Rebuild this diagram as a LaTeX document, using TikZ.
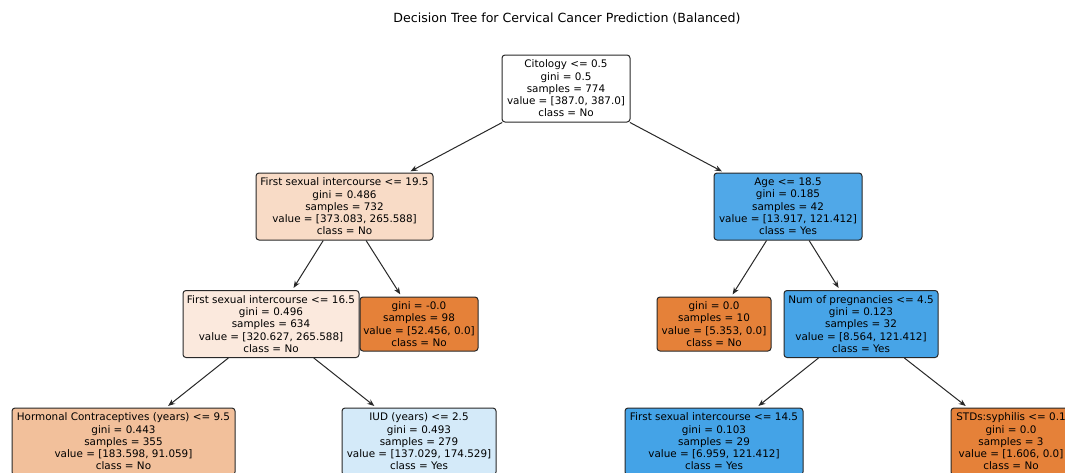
\documentclass[tikz,border=0pt]{standalone}
\usepackage{fontspec}
\setmainfont{DejaVu Sans}
\usetikzlibrary{arrows.meta}
% node fills: orange = class No, blue = class Yes, shaded by purity
\definecolor{cn2}{RGB}{248,219,198}
\definecolor{cn3}{RGB}{80,168,232}
\definecolor{cn4}{RGB}{251,233,221}
\definecolor{corange}{RGB}{229,129,57}
\definecolor{cn7}{RGB}{71,164,231}
\definecolor{cn8}{RGB}{242,192,155}
\definecolor{cn9}{RGB}{212,234,249}
\definecolor{cn10}{RGB}{68,163,231}
\definecolor{edgegray}{RGB}{40,40,40}
\tikzset{
  treenode/.style={draw=edgegray, line width=1pt, rounded corners=3pt,
    align=center, inner sep=1pt, text=black,
    font=\fontsize{10.4}{12.3}\selectfont},
  split/.style={treenode, minimum height=67pt},
  leafnode/.style={treenode, minimum height=54pt},
  branch/.style={draw=edgegray, line width=1pt,
    -{Stealth[length=7pt,width=5.5pt]}, shorten >=2.5pt}
}
\begin{document}
\begin{tikzpicture}[x=1pt,y=-1pt]
\useasboundingbox (0,0) rectangle (1065,472);
\clip (0,0) rectangle (1065,472);
\fill[white] (0,0) rectangle (1065,472);

\node[font=\fontsize{12.6}{15}\selectfont] (title) at (567,19)
  {Decision Tree for Cervical Cancer Prediction (Balanced)};

% depth 0
\node[split, fill=white, minimum width=128pt] (root) at (566,88.5)
  {Citology <= 0.5\\gini = 0.5\\samples = 774\\value = [387.0, 387.0]\\class = No};

% depth 1
\node[split, fill=cn2, minimum width=177pt] (fsi195) at (344.5,206.5)
  {First sexual intercourse <= 19.5\\gini = 0.486\\samples = 732\\value = [373.083, 265.588]\\class = No};
\node[split, fill=cn3, minimum width=148pt] (age) at (788,206.5)
  {Age <= 18.5\\gini = 0.185\\samples = 42\\value = [13.917, 121.412]\\class = Yes};

% depth 2
\node[split, fill=cn4, minimum width=176pt] (fsi165) at (271,324)
  {First sexual intercourse <= 16.5\\gini = 0.496\\samples = 634\\value = [320.627, 265.588]\\class = No};
\node[leafnode, fill=corange, minimum width=118pt] (leafa) at (419,324)
  {gini = -0.0\\samples = 98\\value = [52.456, 0.0]\\class = No};
\node[leafnode, fill=corange, minimum width=114pt] (leafb) at (714,324)
  {gini = 0.0\\samples = 10\\value = [5.353, 0.0]\\class = No};
\node[split, fill=cn7, minimum width=154pt] (preg) at (861,324)
  {Num of pregnancies <= 4.5\\gini = 0.123\\samples = 32\\value = [8.564, 121.412]\\class = Yes};

% depth 3
\node[split, fill=cn8, minimum width=223pt] (hormonal) at (123.5,441.5)
  {Hormonal Contraceptives (years) <= 9.5\\gini = 0.443\\samples = 355\\value = [183.598, 91.059]\\class = No};
\node[split, fill=cn9, minimum width=154pt] (iud) at (419,441.5)
  {IUD (years) <= 2.5\\gini = 0.493\\samples = 279\\value = [137.029, 174.529]\\class = Yes};
\node[split, fill=cn10, minimum width=178pt] (fsi145) at (714,441.5)
  {First sexual intercourse <= 14.5\\gini = 0.103\\samples = 29\\value = [6.959, 121.412]\\class = Yes};
\node[split, fill=corange, minimum width=120pt] (syph) at (1011,441.5)
  {STDs:syphilis <= 0.1\\gini = 0.0\\samples = 3\\value = [1.606, 0.0]\\class = No};

% branches
\draw[branch] (root) -- (fsi195);
\draw[branch] (root) -- (age);
\draw[branch] (fsi195) -- (fsi165);
\draw[branch] (fsi195) -- (leafa);
\draw[branch] (age) -- (leafb);
\draw[branch] (age) -- (preg);
\draw[branch] (fsi165) -- (hormonal);
\draw[branch] (fsi165) -- (iud);
\draw[branch] (preg) -- (fsi145);
\draw[branch] (preg) -- (syph);
\end{tikzpicture}
\end{document}
